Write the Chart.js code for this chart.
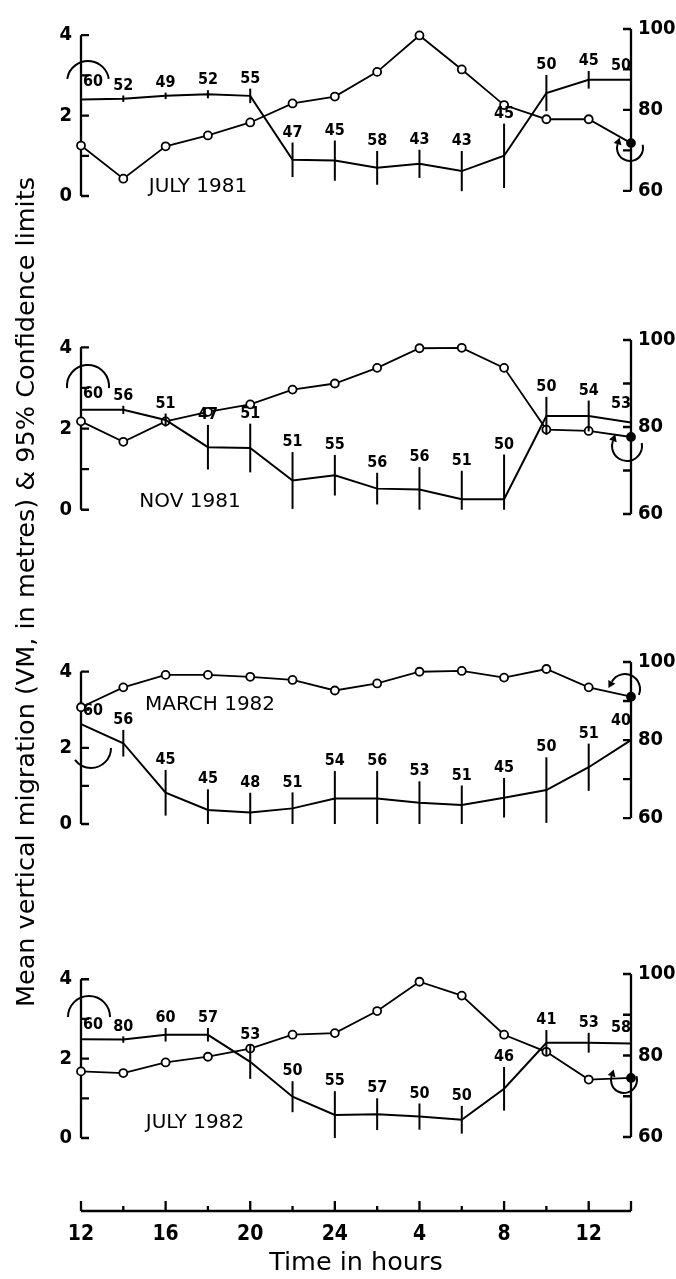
<!DOCTYPE html>
<html>
<head>
<meta charset="utf-8">
<script src="https://cdn.jsdelivr.net/npm/chart.js@4.4.1/dist/chart.umd.min.js"></script>
<style>
  body { margin: 0; background: #fff; }
  #page { position: relative; width: 676px; height: 1279px; overflow: hidden; background: #fff; }
  canvas { position: absolute; left: 0; }
  #ytitle {
    position: absolute; left: -427px; top: 579px; width: 900px; height: 26px;
    line-height: 26px; font: 25.5px "DejaVu Sans", sans-serif; color: #000;
    text-align: center; white-space: nowrap; transform: rotate(-90deg);
  }
</style>
</head>
<body>
<div id="page">
  <canvas id="p0"></canvas>
  <canvas id="p1"></canvas>
  <canvas id="p2"></canvas>
  <canvas id="p3"></canvas>
  <canvas id="time"></canvas>
  <div id="ytitle">Mean vertical migration (VM, in metres) &amp; 95% Confidence limits</div>
</div>
<script>
// hours elapsed since 12:00 (12, 14, 16 ... 24, 2, 4 ... 12, 14)
const hoursElapsed = [0, 2, 4, 6, 8, 10, 12, 14, 16, 18, 20, 22, 24, 26];
const timeTickLabels = ['12', '16', '20', '24', '4', '8', '12'];
const leftTicks = [0, 1, 2, 3, 4];
const rightTicks = [60, 70, 80, 90, 100];

const panelNames = ['JULY 1981', 'NOV 1981', 'MARCH 1982', 'JULY 1982'];

// JULY 1981
const vmJul81  = [2.40, 2.42, 2.49, 2.53, 2.49, 0.90, 0.88, 0.70, 0.80, 0.62, 1.00, 2.56, 2.89, 2.89];
const ciJul81  = [0.20, 0.08, 0.08, 0.10, 0.18, 0.43, 0.50, 0.42, 0.35, 0.50, 0.80, 0.45, 0.22, 0.10];
const nJul81   = [60, 52, 49, 52, 55, 47, 45, 58, 43, 43, 45, 50, 45, 50];
const pctJul81 = [71.2, 63.0, 71.0, 73.7, 76.9, 81.6, 83.3, 89.4, 98.4, 90.0, 81.2, 77.7, 77.7, 71.8];

// NOV 1981
const vmNov81  = [2.46, 2.46, 2.21, 1.54, 1.52, 0.72, 0.85, 0.52, 0.50, 0.26, 0.26, 2.31, 2.31, 2.15];
const ciNov81  = [0.15, 0.10, 0.16, 0.55, 0.60, 0.70, 0.50, 0.39, 0.55, 0.70, 1.10, 0.47, 0.38, 0.20];
const nNov81   = [60, 56, 51, 47, 51, 51, 55, 56, 56, 51, 50, 50, 54, 53];
const pctNov81 = [81.3, 76.6, 81.3, 83.5, 85.2, 88.6, 90.0, 93.6, 98.1, 98.2, 93.6, 79.4, 79.1, 77.7];

// MARCH 1982
const vmMar82  = [2.62, 2.12, 0.82, 0.37, 0.30, 0.41, 0.67, 0.67, 0.56, 0.50, 0.69, 0.89, 1.49, 2.20];
const ciMar82  = [0.10, 0.35, 0.60, 0.54, 0.52, 0.42, 0.72, 0.72, 0.56, 0.51, 0.52, 0.86, 0.62, 0.25];
const nMar82   = [60, 56, 45, 45, 48, 51, 54, 56, 53, 51, 45, 50, 51, 40];
const pctMar82 = [88.4, 93.5, 96.7, 96.7, 96.2, 95.4, 92.7, 94.5, 97.5, 97.7, 96.0, 98.2, 93.5, 91.1];

// JULY 1982
const vmJul82  = [2.49, 2.48, 2.60, 2.60, 1.92, 1.04, 0.58, 0.60, 0.54, 0.46, 1.24, 2.40, 2.40, 2.38];
const ciJul82  = [0.10, 0.08, 0.17, 0.17, 0.43, 0.39, 0.60, 0.40, 0.33, 0.35, 0.55, 0.32, 0.25, 0.15];
const nJul82   = [60, 80, 60, 57, 53, 50, 55, 57, 50, 50, 46, 41, 53, 58];
const pctJul82 = [76.1, 75.7, 78.3, 79.7, 81.7, 85.1, 85.5, 90.9, 98.1, 94.7, 85.1, 80.9, 74.1, 74.5];

const series = [
  [vmJul81, ciJul81, nJul81, pctJul81],
  [vmNov81, ciNov81, nNov81, pctNov81],
  [vmMar82, ciMar82, nMar82, pctMar82],
  [vmJul82, ciJul82, nJul82, pctJul82]
];

// page geometry of each panel (pixel rows of the axis ends, title spot, curved arrows)
const geom = [
  { lTop: 34.5, lBot: 196.7, rTop: 28.3, rBot: 191.5, tx: 198, ty: 187,
    arcs: [{cx: 88, cy: 82, r: 21, a0: Math.PI + 0.15, a1: 2 * Math.PI - 0.15},
           {cx: 630, cy: 148, r: 13, a0: -0.25, a1: Math.PI + 0.3, arrow: 'end'}] },
  { lTop: 346.7, lBot: 510.7, rTop: 339.3, rBot: 515, tx: 190, ty: 502,
    arcs: [{cx: 88, cy: 386, r: 21, a0: Math.PI - 0.1, a1: 2 * Math.PI + 0.1},
           {cx: 627, cy: 446, r: 15, a0: -0.2, a1: Math.PI + 0.35, arrow: 'end'}] },
  { lTop: 670.7, lBot: 825, rTop: 661, rBot: 819, tx: 210, ty: 705,
    arcs: [{cx: 91, cy: 748, r: 20, a0: 0, a1: 2.5},
           {cx: 625, cy: 689, r: 15, a0: Math.PI + 0.5, a1: 2 * Math.PI + 0.4, arrow: 'start'}] },
  { lTop: 978.3, lBot: 1139, rTop: 973, rBot: 1138, tx: 195, ty: 1123,
    arcs: [{cx: 89, cy: 1017, r: 21, a0: Math.PI, a1: 2 * Math.PI},
           {cx: 624, cy: 1080, r: 13, a0: -0.3, a1: Math.PI + 0.3, arrow: 'end'}] }
];

const narrow = '"Liberation Sans Narrow", "DejaVu Sans Condensed", "Roboto Condensed", sans-serif';
Chart.defaults.color = '#000';

function rangeFor(lo, hi, pxTop, pxBot, areaTop, areaBot) {
  const ppu = (pxBot - pxTop) / (hi - lo);
  return { min: lo - (areaBot - pxBot) / ppu, max: hi + (pxTop - areaTop) / ppu };
}

function drawArc(ctx, a, dy) {
  const cy = a.cy - dy;
  ctx.beginPath();
  ctx.arc(a.cx, cy, a.r, a.a0, a.a1, false);
  ctx.stroke();
  if (!a.arrow) return;
  const th = a.arrow === 'end' ? a.a1 : a.a0;
  const sgn = a.arrow === 'end' ? 1 : -1;
  const px = a.cx + a.r * Math.cos(th), py = cy + a.r * Math.sin(th);
  const tx = -Math.sin(th) * sgn, ty = Math.cos(th) * sgn;
  const nx = -ty, ny = tx;
  ctx.beginPath();
  ctx.moveTo(px + tx * 7, py + ty * 7);
  ctx.lineTo(px + nx * 4, py + ny * 4);
  ctx.lineTo(px - nx * 4, py - ny * 4);
  ctx.closePath();
  ctx.fill();
}

function panelPlugin(idx, canvasTop) {
  const [vm, ci, n] = series[idx];
  const g = geom[idx];
  return {
    id: 'panel' + idx,
    beforeDatasetsDraw(chart) {
      const ctx = chart.ctx, yl = chart.scales.y, yr = chart.scales.y1;
      const xl = chart.chartArea.left, xr = chart.chartArea.right;
      ctx.save();
      ctx.strokeStyle = '#000';
      ctx.lineWidth = 2.3;
      ctx.beginPath();
      ctx.moveTo(xl, yl.getPixelForValue(4));
      ctx.lineTo(xl, yl.getPixelForValue(0));
      leftTicks.forEach(v => { const y = yl.getPixelForValue(v); ctx.moveTo(xl, y); ctx.lineTo(xl + 8, y); });
      ctx.moveTo(xr, yr.getPixelForValue(100));
      ctx.lineTo(xr, yr.getPixelForValue(60));
      rightTicks.forEach(v => { const y = yr.getPixelForValue(v); ctx.moveTo(xr, y); ctx.lineTo(xr - 8, y); });
      ctx.stroke();
      ctx.restore();
    },
    afterDatasetsDraw(chart) {
      const ctx = chart.ctx, xs = chart.scales.x, yl = chart.scales.y;
      ctx.save();
      ctx.strokeStyle = '#000';
      ctx.fillStyle = '#000';
      ctx.lineWidth = 2;
      ctx.font = 'bold 16px ' + narrow;
      ctx.textAlign = 'center';
      ctx.textBaseline = 'bottom';
      hoursElapsed.forEach((h, i) => {
        const x = xs.getPixelForValue(h);
        const top = yl.getPixelForValue(Math.min(4, vm[i] + ci[i]));
        const bot = yl.getPixelForValue(Math.max(0, vm[i] - ci[i]));
        ctx.beginPath();
        ctx.moveTo(x, top);
        ctx.lineTo(x, bot);
        ctx.stroke();
        let lx = x;
        if (i === 0) lx += 12;
        if (i === hoursElapsed.length - 1) lx -= 10;
        ctx.fillText(String(n[i]), lx, top - 2);
      });
      ctx.font = '20px "DejaVu Sans", sans-serif';
      ctx.textBaseline = 'middle';
      ctx.fillText(panelNames[idx], g.tx, g.ty - canvasTop);
      ctx.lineWidth = 2;
      g.arcs.forEach(a => drawArc(ctx, a, canvasTop));
      ctx.restore();
    }
  };
}

function makePanel(idx) {
  const [vm, ci, n, pct] = series[idx];
  const g = geom[idx];
  const areaTop = Math.min(g.lTop, g.rTop);
  const areaBot = Math.max(g.lBot, g.rBot);
  const canvasTop = Math.round(areaTop) - 20;
  const canvasH = Math.round(areaBot) + 20 - canvasTop;
  const cv = document.getElementById('p' + idx);
  cv.width = 676;
  cv.height = canvasH;
  cv.style.top = canvasTop + 'px';
  const lr = rangeFor(0, 4, g.lTop, g.lBot, areaTop, areaBot);
  const rr = rangeFor(60, 100, g.rTop, g.rBot, areaTop, areaBot);

  new Chart(cv, {
    type: 'line',
    data: {
      datasets: [
        {
          label: 'VM',
          data: hoursElapsed.map((h, i) => ({ x: h, y: vm[i] })),
          yAxisID: 'y',
          borderColor: '#000',
          borderWidth: 2,
          pointRadius: 0,
          tension: 0,
          clip: false
        },
        {
          label: 'right axis',
          data: hoursElapsed.map((h, i) => ({ x: h, y: pct[i] })),
          yAxisID: 'y1',
          borderColor: '#000',
          borderWidth: 1.8,
          pointRadius: 4,
          pointBorderWidth: 1.8,
          pointBorderColor: '#000',
          pointBackgroundColor: pct.map((_, i) => i === pct.length - 1 ? '#000' : '#fff'),
          tension: 0,
          clip: false
        }
      ]
    },
    options: {
      responsive: false,
      animation: false,
      events: [],
      layout: { padding: { top: areaTop - canvasTop, bottom: canvasTop + canvasH - areaBot, left: 0, right: 0 } },
      plugins: { legend: { display: false }, tooltip: { enabled: false } },
      scales: {
        x: { type: 'linear', min: 0, max: 26, display: false },
        y: {
          position: 'left', min: lr.min, max: lr.max,
          afterFit(s) { s.width = 81; },
          afterBuildTicks(s) { s.ticks = leftTicks.map(v => ({ value: v })); },
          grid: { display: false, drawTicks: false },
          border: { display: false },
          ticks: {
            padding: 9, color: '#000',
            font: { family: narrow, size: 20, weight: 'bold' },
            callback: v => (v % 2 === 0 ? String(v) : '')
          }
        },
        y1: {
          position: 'right', min: rr.min, max: rr.max,
          afterFit(s) { s.width = 45; },
          afterBuildTicks(s) { s.ticks = rightTicks.map(v => ({ value: v })); },
          grid: { display: false, drawTicks: false },
          border: { display: false },
          ticks: {
            padding: 7, color: '#000',
            font: { family: narrow, size: 20, weight: 'bold' },
            callback: v => (v % 20 === 0 ? String(v) : '')
          }
        }
      }
    },
    plugins: [panelPlugin(idx, canvasTop)]
  });
}

[0, 1, 2, 3].forEach(makePanel);

// bottom time axis
const timeAxisPlugin = {
  id: 'timeAxis',
  afterDraw(chart) {
    const ctx = chart.ctx, xs = chart.scales.x;
    const yb = chart.chartArea.bottom;
    ctx.save();
    ctx.strokeStyle = '#000';
    ctx.lineWidth = 2.3;
    ctx.beginPath();
    ctx.moveTo(xs.getPixelForValue(0), yb);
    ctx.lineTo(xs.getPixelForValue(26), yb);
    hoursElapsed.forEach(h => {
      const x = xs.getPixelForValue(h);
      const len = (h % 4 === 0 || h === 26) ? 10 : 5;
      ctx.moveTo(x, yb);
      ctx.lineTo(x, yb - len);
    });
    ctx.stroke();
    ctx.restore();
  }
};

const tcv = document.getElementById('time');
tcv.width = 676;
tcv.height = 99;
tcv.style.top = '1180px';
new Chart(tcv, {
  type: 'scatter',
  data: { datasets: [] },
  options: {
    responsive: false,
    animation: false,
    events: [],
    layout: { padding: { top: 20, left: 81, right: 45, bottom: 0 } },
    plugins: { legend: { display: false }, tooltip: { enabled: false } },
    scales: {
      x: {
        type: 'linear', min: 0, max: 26, position: 'bottom',
        afterFit(s) { s.height = 68; },
        afterBuildTicks(s) { s.ticks = hoursElapsed.map(v => ({ value: v })); },
        grid: { display: false, drawTicks: false },
        border: { display: false },
        ticks: {
          autoSkip: false, maxRotation: 0, padding: 11, color: '#000',
          font: { family: narrow, size: 21, weight: 'bold' },
          callback: v => (v % 4 === 0 ? timeTickLabels[v / 4] : '')
        },
        title: {
          display: true, text: 'Time in hours', color: '#000',
          font: { family: '"DejaVu Sans", sans-serif', size: 25.5 },
          padding: { top: 0, bottom: 0 }
        }
      },
      y: { display: false, min: 0, max: 1 }
    }
  },
  plugins: [timeAxisPlugin]
});
</script>
</body>
</html>
